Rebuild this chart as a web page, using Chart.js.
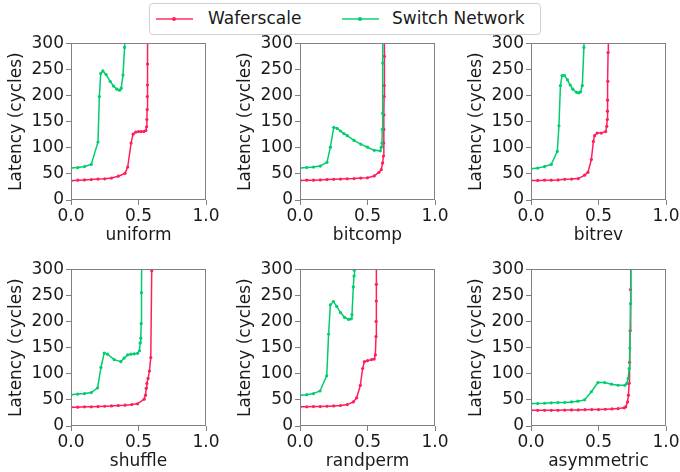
<!DOCTYPE html>
<html>
<head>
<meta charset="utf-8">
<script src="https://cdn.jsdelivr.net/npm/chart.js@4"></script>
<style>
  body { margin: 0; background: #fff; font-family: "DejaVu Sans", sans-serif; }
  #fig { position: relative; width: 680px; height: 472px; }
  canvas { position: absolute; }
  #legend { position: absolute; left: 149px; top: 3px; width: 390px; height: 30px;
            border: 1px solid #d0d0d0; border-radius: 4px; font-size: 17px; color: #1a1a1a; }
  .handle { position: absolute; top: 14px; width: 37px; height: 2px; }
  .dot { position: absolute; left: 16px; top: -1px; width: 4px; height: 4px; border-radius: 2px; }
  .lbl { position: absolute; top: 4px; white-space: nowrap; }
</style>
</head>
<body>
<div id="fig">
  <div id="legend">
    <div class="handle" style="left:6px;background:rgba(255,31,91,0.7)"><div class="dot" style="background:#ff1f5b"></div></div>
    <div class="lbl" style="left:58px">Waferscale</div>
    <div class="handle" style="left:192px;background:rgba(0,205,108,0.7)"><div class="dot" style="background:#00cd6c"></div></div>
    <div class="lbl" style="left:242px">Switch Network</div>
  </div>
</div>
<script>
// injection rate vs latency, one pair of series per traffic pattern
const patterns = ['uniform', 'bitcomp', 'bitrev', 'shuffle', 'randperm', 'asymmetric'];

const uniformWaferX = [0, 0.05, 0.1, 0.15, 0.2, 0.25, 0.3, 0.35, 0.4, 0.42, 0.445, 0.46, 0.48, 0.5, 0.52, 0.54, 0.555, 0.56, 0.562, 0.564, 0.565, 0.566, 0.567, 0.57];
const uniformWaferY = [37, 38, 38.5, 39, 40, 40.5, 42, 45.5, 51, 63, 109, 126, 130, 131, 131, 131, 133, 140, 154, 173, 198, 220, 260, 420];
const uniformSwitchX = [0, 0.05, 0.1, 0.15, 0.2, 0.21, 0.22, 0.236, 0.26, 0.29, 0.315, 0.34, 0.36, 0.372, 0.385, 0.397, 0.405];
const uniformSwitchY = [61, 62, 64, 68, 111, 198, 242, 247, 240, 227, 218, 212, 210, 214, 239, 292, 420];

const bitcompWaferX = [0, 0.05, 0.1, 0.15, 0.2, 0.25, 0.3, 0.35, 0.4, 0.45, 0.5, 0.55, 0.585, 0.602, 0.612, 0.618, 0.62, 0.621, 0.622, 0.623, 0.624, 0.625, 0.627];
const bitcompWaferY = [37.5, 38, 38, 38.5, 39, 39.5, 40, 40.5, 41, 42, 42.5, 46, 53, 58, 71, 84, 109, 135, 163, 198, 219, 275, 420];
const bitcompSwitchX = [0, 0.05, 0.1, 0.15, 0.2, 0.225, 0.25, 0.275, 0.3, 0.325, 0.35, 0.4, 0.45, 0.5, 0.55, 0.595, 0.602, 0.607, 0.61, 0.612, 0.613, 0.615];
const bitcompSwitchY = [61, 62, 63, 65, 72, 101, 139, 137, 132, 127, 123, 114, 107, 101, 95, 94, 101, 109, 135, 166, 262, 420];

const bitrevWaferX = [0, 0.05, 0.1, 0.15, 0.2, 0.25, 0.3, 0.35, 0.397, 0.422, 0.447, 0.462, 0.471, 0.49, 0.52, 0.553, 0.561, 0.565, 0.566, 0.567, 0.569, 0.571, 0.573];
const bitrevWaferY = [37.5, 37.5, 38, 38, 38.5, 39.5, 40, 41, 47.5, 53, 77.5, 112, 123, 128, 128, 131, 141, 154, 170, 191, 227, 282, 420];
const bitrevSwitchX = [0, 0.05, 0.1, 0.15, 0.195, 0.207, 0.218, 0.23, 0.248, 0.27, 0.29, 0.31, 0.337, 0.355, 0.367, 0.38, 0.392, 0.4];
const bitrevSwitchY = [60, 61, 64, 68, 93, 142, 219, 238, 238, 230, 220, 212, 206, 205, 207, 219, 292, 420];

const shuffleWaferX = [0, 0.05, 0.1, 0.15, 0.2, 0.25, 0.3, 0.35, 0.4, 0.45, 0.493, 0.542, 0.552, 0.557, 0.562, 0.571, 0.581, 0.591, 0.598, 0.6];
const shuffleWaferY = [36, 36, 36.6, 36.6, 37.2, 37.8, 38.5, 39.2, 39.8, 41, 42.4, 51.4, 59, 72, 81.5, 91, 105, 131, 297, 420];
const shuffleSwitchX = [0, 0.05, 0.1, 0.15, 0.197, 0.222, 0.246, 0.27, 0.32, 0.369, 0.394, 0.419, 0.443, 0.468, 0.493, 0.507, 0.512, 0.517, 0.52, 0.522, 0.527];
const shuffleSwitchY = [60, 61, 62, 64, 73, 112, 139.5, 137.5, 127, 123, 130, 136, 137.5, 138, 139, 144, 159, 168, 196, 255, 420];

const randpermWaferX = [0, 0.05, 0.1, 0.15, 0.2, 0.25, 0.3, 0.35, 0.395, 0.42, 0.447, 0.464, 0.477, 0.5, 0.53, 0.55, 0.558, 0.563, 0.564, 0.565, 0.566, 0.568];
const randpermWaferY = [36.6, 36.6, 37.2, 37.2, 37.8, 38.5, 39.2, 41, 46, 54, 78, 110, 123, 125, 127, 128, 136, 171, 200, 239, 271, 420];
const randpermSwitchX = [0, 0.05, 0.1, 0.148, 0.198, 0.212, 0.225, 0.247, 0.272, 0.3, 0.33, 0.36, 0.378, 0.385, 0.395, 0.4, 0.402, 0.405];
const randpermSwitchY = [59, 60, 62, 67, 96, 176, 232, 238, 229, 217, 208, 204, 205, 213, 266, 287, 298, 420];

const asymmetricWaferX = [0, 0.05, 0.1, 0.15, 0.2, 0.25, 0.3, 0.35, 0.4, 0.45, 0.5, 0.55, 0.6, 0.645, 0.69, 0.702, 0.715, 0.722, 0.727, 0.73, 0.734, 0.737, 0.74];
const asymmetricWaferY = [30, 30, 30, 30, 30, 30.4, 30.8, 30.8, 31.2, 31.5, 31.5, 32, 32.7, 33.4, 34.7, 36.6, 46, 59, 81.6, 122, 182, 261, 420];
const asymmetricSwitchX = [0, 0.05, 0.1, 0.15, 0.2, 0.25, 0.3, 0.347, 0.397, 0.447, 0.496, 0.546, 0.596, 0.645, 0.695, 0.71, 0.72, 0.727, 0.732, 0.737, 0.74];
const asymmetricSwitchY = [43, 43, 43.5, 44.3, 45, 45, 46, 47.5, 50, 65.5, 83, 83, 80, 78, 78, 81.5, 91, 110, 149, 234, 420];

const xTicks = [0, 0.5, 1.0];
const yTicks = [0, 50, 100, 150, 200, 250, 300];

const series = {
  uniform: [uniformWaferX, uniformWaferY, uniformSwitchX, uniformSwitchY],
  bitcomp: [bitcompWaferX, bitcompWaferY, bitcompSwitchX, bitcompSwitchY],
  bitrev: [bitrevWaferX, bitrevWaferY, bitrevSwitchX, bitrevSwitchY],
  shuffle: [shuffleWaferX, shuffleWaferY, shuffleSwitchX, shuffleSwitchY],
  randperm: [randpermWaferX, randpermWaferY, randpermSwitchX, randpermSwitchY],
  asymmetric: [asymmetricWaferX, asymmetricWaferY, asymmetricSwitchX, asymmetricSwitchY]
};

const RED = '#ff1f5b', GREEN = '#00cd6c', SPINE = '#808080', TEXT = '#1a1a1a';
const FONT = { family: 'DejaVu Sans', size: 17 };

// plot area (left, top) of each panel in page pixels
const plotLefts = [71, 300, 531];
const plotTops = [43, 269];
const PW = 135, PH = 157;
const AXW = 71, AXH = 46, PADT = 12, PADR = 20;

function toPoints(xs, ys) {
  return xs.map(function(x, i) { return { x: x, y: ys[i] } })
}

const frame = {
  id: 'frame',
  afterDatasetsDraw(chart) {
    const a = chart.chartArea, ctx = chart.ctx;
    ctx.save();
    ctx.strokeStyle = SPINE;
    ctx.lineWidth = 1;
    ctx.strokeRect(Math.round(a.left) + 0.5, Math.round(a.top) + 0.5,
                   Math.round(a.width) - 1, Math.round(a.height) - 1);
    ctx.restore();
  }
};

function makeDataset(label, pts, color, order) {
  return {
    label: label, data: pts, order: order,
    showLine: true, borderColor: color, borderWidth: 1.5,
    pointRadius: 1.6, pointBorderWidth: 0, pointBackgroundColor: color,
    tension: 0
  }
}

patterns.forEach(function(name, i) {
  const s = series[name];
  const col = i % 3, row = Math.floor(i / 3);
  const canvas = document.createElement('canvas');
  const w = AXW + PW + PADR, h = PADT + PH + AXH;
  canvas.width = w; canvas.height = h;
  canvas.style.left = (plotLefts[col] - AXW) + 'px';
  canvas.style.top = (plotTops[row] - PADT) + 'px';
  canvas.style.width = w + 'px'; canvas.style.height = h + 'px';
  document.getElementById('fig').appendChild(canvas);

  new Chart(canvas, {
    type: 'scatter',
    data: {
      datasets: [
        makeDataset('Waferscale', toPoints(s[0], s[1]), RED, 2),
        makeDataset('Switch Network', toPoints(s[2], s[3]), GREEN, 1)
      ]
    },
    options: {
      responsive: false,
      animation: false,
      layout: { padding: { top: PADT, right: PADR, left: 0, bottom: 0 } },
      plugins: { legend: { display: false }, tooltip: { enabled: false } },
      scales: {
        x: {
          type: 'linear', min: 0, max: 1,
          afterBuildTicks: function(scale) { scale.ticks = xTicks.map(v => ({ value: v })) },
          afterFit: function(scale) { scale.height = AXH },
          ticks: { font: FONT, color: TEXT, padding: 1, maxRotation: 0,
                   callback: v => v.toFixed(1) },
          grid: { drawOnChartArea: false, tickLength: 5, color: SPINE },
          border: { display: false },
          title: { display: true, text: name, font: FONT, color: TEXT, padding: { top: 0, bottom: 0 } }
        },
        y: {
          type: 'linear', min: 0, max: 300,
          afterBuildTicks: function(scale) { scale.ticks = yTicks.map(v => ({ value: v })) },
          afterFit: function(scale) { scale.width = AXW },
          ticks: { font: FONT, color: TEXT, padding: 2 },
          grid: { drawOnChartArea: false, tickLength: 5, color: SPINE },
          border: { display: false },
          title: { display: true, text: 'Latency (cycles)', font: FONT, color: TEXT, padding: { top: 6, bottom: 0 } }
        }
      }
    },
    plugins: [frame]
  })
});
</script>
</body>
</html>
